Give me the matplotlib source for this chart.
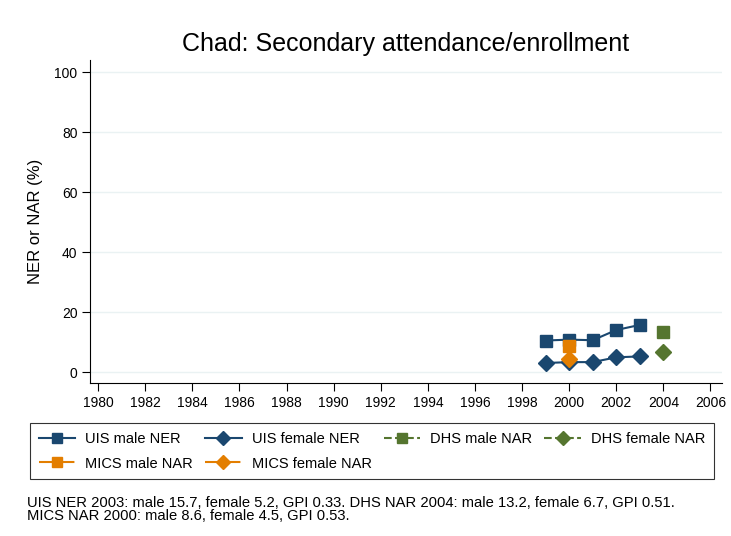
import matplotlib
matplotlib.use("Agg")
import matplotlib.pyplot as plt
from matplotlib.lines import Line2D

plt.rcParams['font.family'] = ['Liberation Sans', 'DejaVu Sans']

uis_years = [1999, 2000, 2001, 2002, 2003]
uis_male = [10.5, 10.8, 10.6, 14.0, 15.7]
uis_female = [3.0, 3.3, 3.3, 4.9, 5.2]
dhs_years = [2004]
dhs_male = [13.2]
dhs_female = [6.7]
mics_years = [2000]
mics_male = [8.6]
mics_female = [4.5]
xticks = list(range(1980, 2007, 2))
yticks = [0, 20, 40, 60, 80, 100]

navy = '#1a476f'
green = '#55752f'
orange = '#e37e00'

fig = plt.figure(figsize=(7.31, 5.36), dpi=100)
ax = fig.add_axes([0.123, 0.2854, 0.865, 0.6026])

ax.plot(uis_years, uis_male, color=navy, marker='s', ms=8, lw=1.5, zorder=3)
ax.plot(uis_years, uis_female, color=navy, marker='D', ms=8, lw=1.5, zorder=3)
ax.plot(dhs_years, dhs_male, color=green, marker='s', ms=8, ls='--', zorder=3)
ax.plot(dhs_years, dhs_female, color=green, marker='D', ms=8, ls='--', zorder=3)
ax.plot(mics_years, mics_male, color=orange, marker='s', ms=8, ls='-.', zorder=3)
ax.plot(mics_years, mics_female, color=orange, marker='D', ms=8, ls='-.', zorder=3)

ax.set_xlim(1979.65, 2006.5)
ax.set_ylim(-3.67, 104)
ax.set_xticks(xticks)
ax.set_yticks(yticks)
ax.tick_params(labelsize=10, length=6, color='black', pad=3)
ax.grid(axis='y', color='#eaf2f3', lw=1)
ax.set_axisbelow(True)
for s in ['top', 'right']:
    ax.spines[s].set_visible(False)
ax.set_ylabel('NER or NAR (%)', fontsize=12, labelpad=8)
fig.text(0.555, 0.918, 'Chad: Secondary attendance/enrollment', fontsize=18,
         ha='center', va='center')

def h(color, marker, ls):
    return Line2D([], [], color=color, marker=marker, ms=7, ls=ls, lw=1.5)

handles = [h(navy, 's', '-'), h(orange, 's', '-.'),
           h(navy, 'D', '-'), h(orange, 'D', '-.'),
           h(green, 's', '--'), h(green, 'D', '--')]
labels = ['UIS male NER', 'MICS male NAR', 'UIS female NER', 'MICS female NAR',
          'DHS male NAR', 'DHS female NAR']
leg = fig.legend(handles, labels, ncol=4, loc='upper left',
                 bbox_to_anchor=(0.041, 0.108, 0.936, 0.103), mode='expand',
                 fontsize=10.5, frameon=True, fancybox=False, edgecolor='black',
                 handlelength=2.5, borderaxespad=0, columnspacing=1.0,
                 handletextpad=0.7, borderpad=0.6, labelspacing=0.75)
leg.get_frame().set_linewidth(0.8)

fig.text(0.037, 0.075, 'UIS NER 2003: male 15.7, female 5.2, GPI 0.33. DHS NAR 2004: male 13.2, female 6.7, GPI 0.51.\nMICS NAR 2000: male 8.6, female 4.5, GPI 0.53.',
         fontsize=10.6, va='top', linespacing=0.95)

fig.savefig('out.png', dpi=100)
